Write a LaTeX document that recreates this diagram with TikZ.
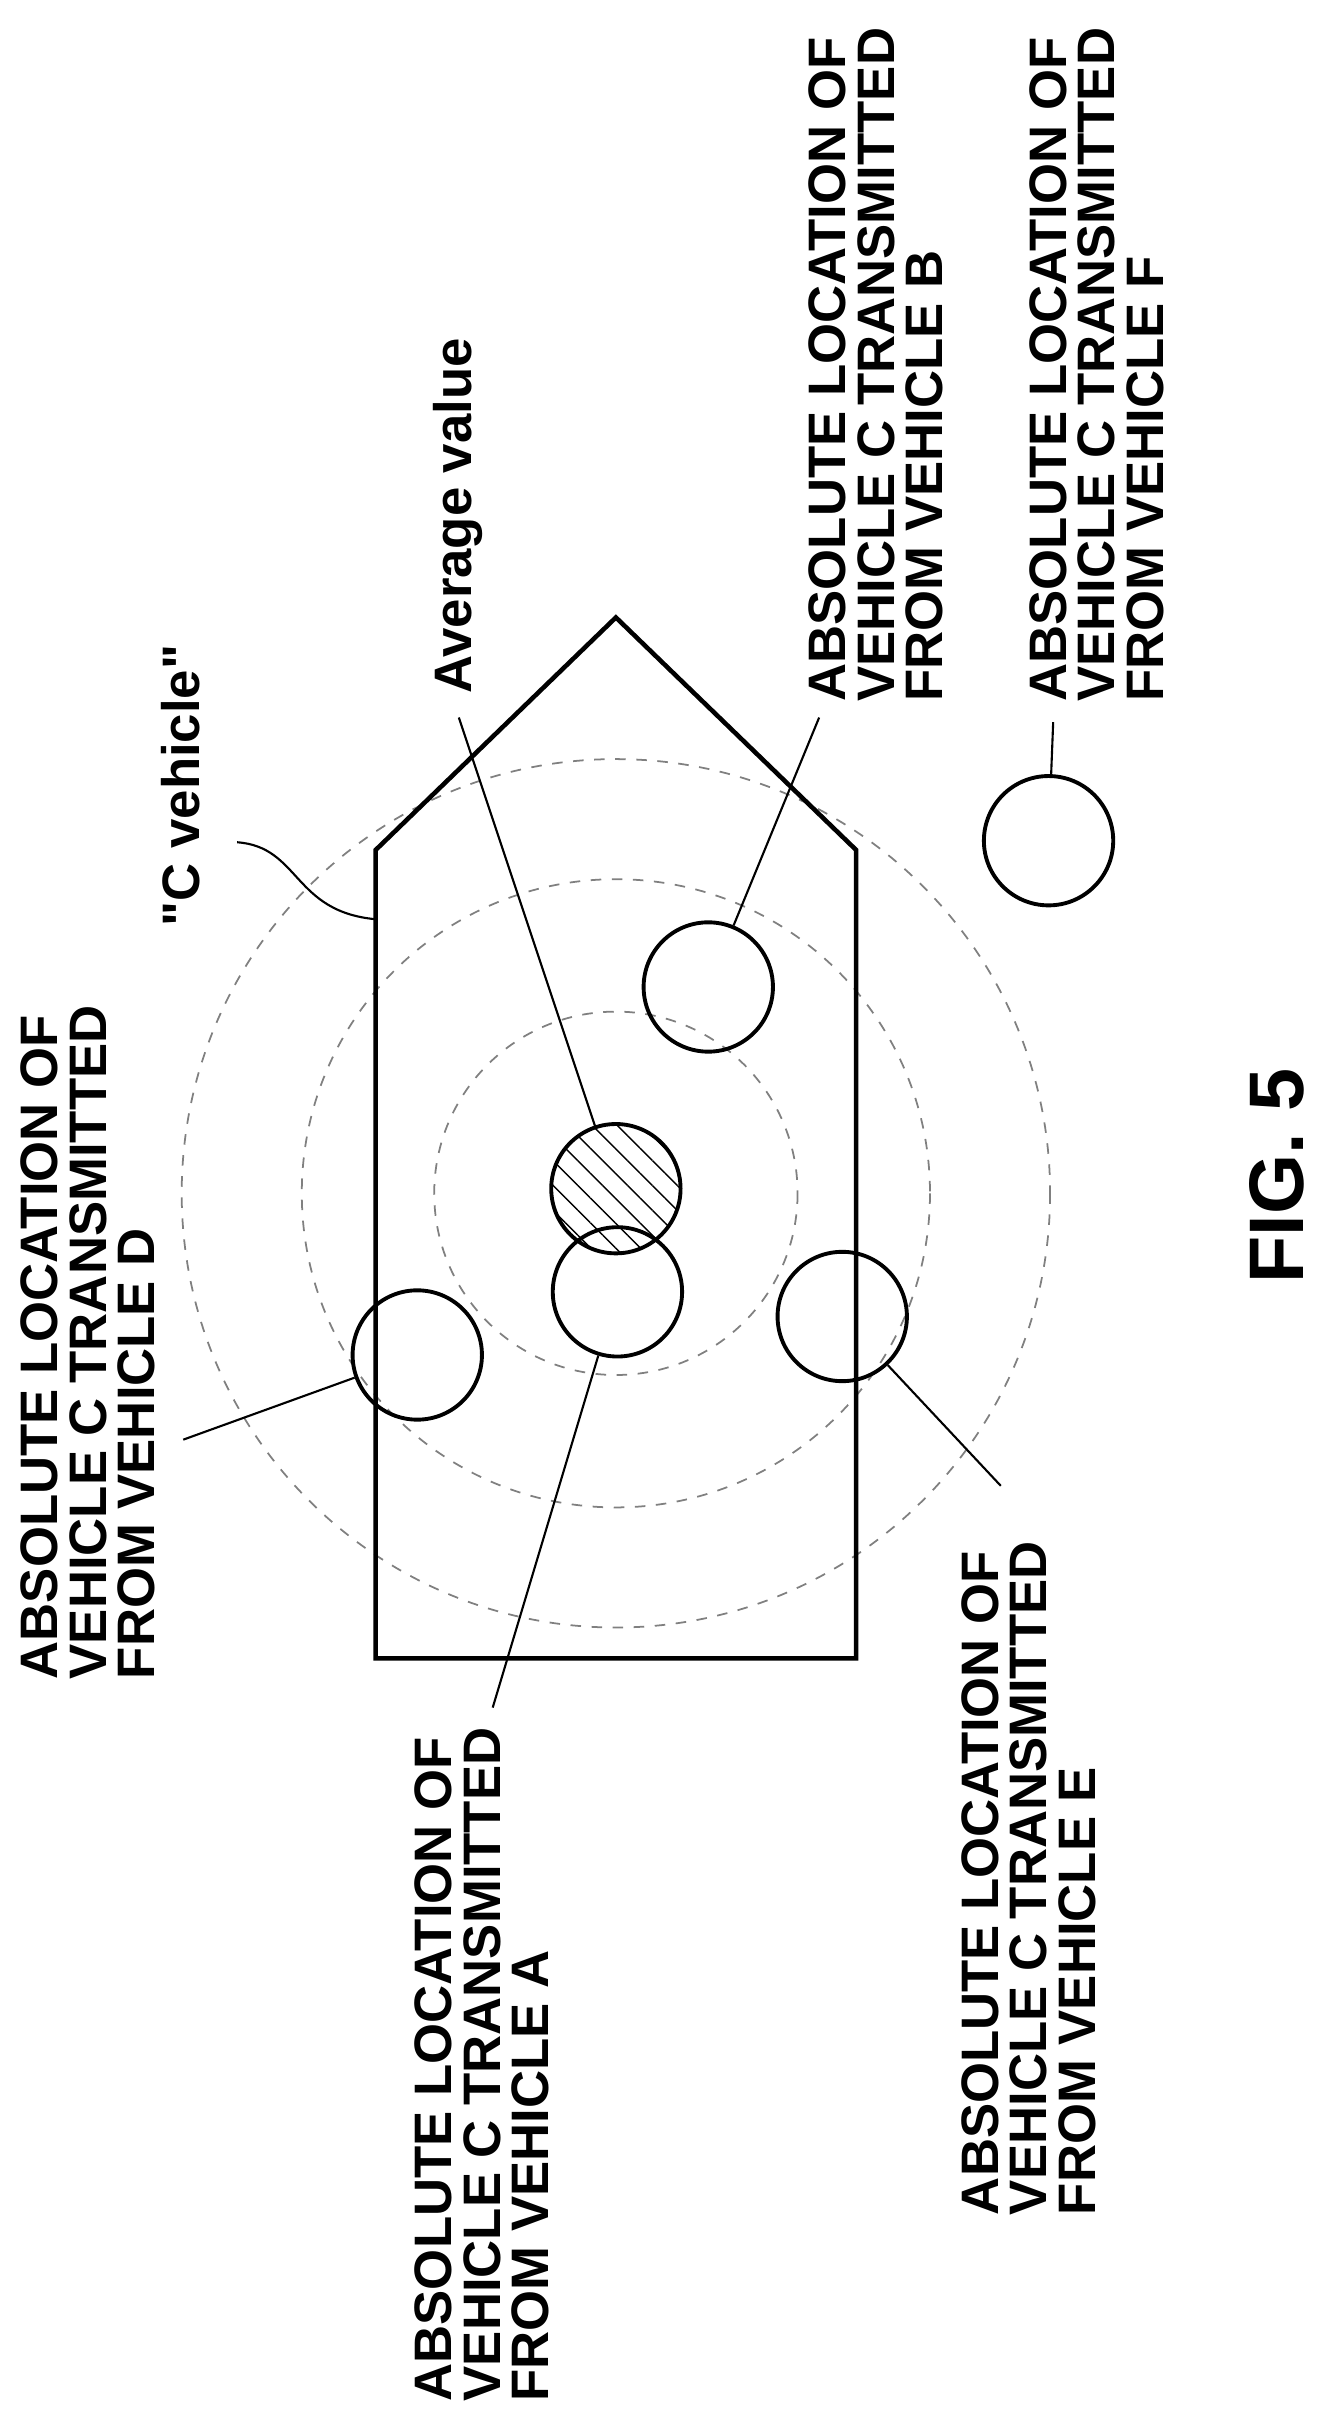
\documentclass[tikz,border=0pt]{standalone}
\usepackage{fontspec}
\setmainfont{Liberation Sans}
\usetikzlibrary{patterns.meta}

\tikzset{
	loc/.style={draw, line width=1.1pt, circle, minimum size=84*0.0154cm, inner sep=0pt},
	lbl/.style={rotate=90, anchor=north west, align=left, inner sep=0pt,
		font=\fontsize{15}{13.8}\selectfont\bfseries},
	lead/.style={line width=0.6pt},
	ring/.style={dashed, gray, line width=0.5pt}
}

\begin{document}
\begin{tikzpicture}[x=0.0154cm, y=-0.0154cm]
	\useasboundingbox (0,0) rectangle (860,1573);
	% rings
	\foreach \r in {118,204,282} {
		\draw[ring] (400,775) circle (\r);
	}
	% vehicle outline
	\draw[line width=1.3pt] (244,1077) -- (244,552) -- (400,401) -- (556,552) -- (556,1077) -- cycle;
	\coordinate (body) at (244,597);

	\node[loc, pattern={Lines[angle=-45, distance=5pt, line width=0.4pt]}] (avg) at (400,772) {};
	\node[loc] (ca) at (401,839) {};
	\node[loc] (cd) at (271,880) {};
	\node[loc] (ce) at (547,855) {};
	\node[loc] (cb) at (460,641) {};
	\node[loc] (cf) at (681,546) {};

	% labels
	\node[lbl] (ld) at (13,1091) {ABSOLUTE LOCATION OF\\VEHICLE C TRANSMITTED\\FROM VEHICLE D};
	\node[lbl] (la) at (269,1560) {ABSOLUTE LOCATION OF\\VEHICLE C TRANSMITTED\\FROM VEHICLE A};
	\node[lbl] (le) at (624,1439) {ABSOLUTE LOCATION OF\\VEHICLE C TRANSMITTED\\FROM VEHICLE E};
	\node[lbl] (lb) at (525,456) {ABSOLUTE LOCATION OF\\VEHICLE C TRANSMITTED\\FROM VEHICLE B};
	\node[lbl] (lf) at (668,456) {ABSOLUTE LOCATION OF\\VEHICLE C TRANSMITTED\\FROM VEHICLE F};
	\node[lbl] (lc) at (104,602) {\textquotedbl C vehicle\textquotedbl};
	\node[lbl] (lv) at (281,451) {Average value};
	\node[lbl, font=\fontsize{22}{24}\selectfont\bfseries] (fig) at (811,834) {FIG. 5};

	% leaders
	\coordinate (pd) at (119,935);
	\coordinate (pa) at (320,1109);
	\coordinate (pe) at (650,965);
	\coordinate (pb) at (532,466);
	\coordinate (pf) at (684,469);
	\coordinate (pv) at (298,466);
	\coordinate (pc) at (154,547);
	\draw[lead] (pd) -- (cd);
	\draw[lead] (pa) -- (ca);
	\draw[lead] (pe) -- (ce);
	\draw[lead] (pb) -- (cb);
	\draw[lead] (pf) -- (cf);
	\draw[lead] (pv) -- (avg);
	\draw[lead] (pc) .. controls (195,550) and (190,592) .. (body);
\end{tikzpicture}
\end{document}
